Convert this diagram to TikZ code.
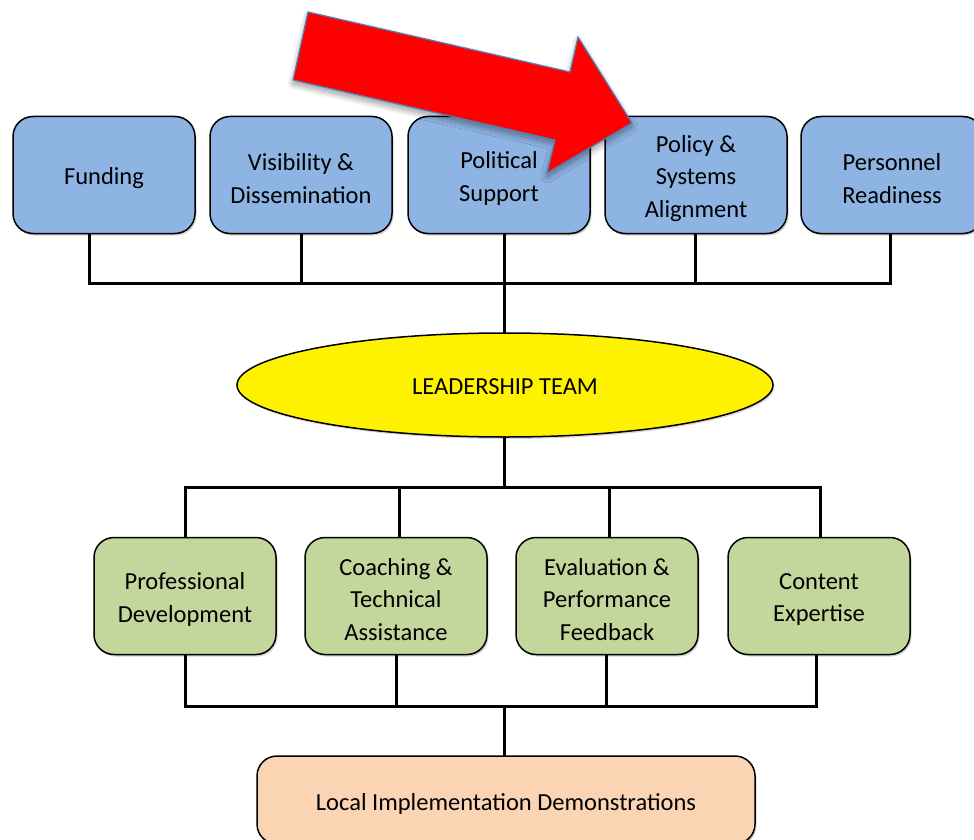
\documentclass[tikz,border=0pt]{standalone}
\usepackage{fontspec}
\setmainfont{Carlito}
\usetikzlibrary{shadows,shadows.blur,shapes.geometric}
\definecolor{boxblue}{HTML}{8EB4E3}
\definecolor{boxgreen}{HTML}{C3D69B}
\definecolor{boxpeach}{HTML}{FBD4B4}
\definecolor{arrowedge}{HTML}{4F81BD}
\begin{document}
\begin{tikzpicture}[x=1pt,y=-1pt,
  box/.style={draw=black, line width=1.5pt, rounded corners=20pt,
    minimum width=182pt, minimum height=117pt, inner sep=0pt,
    drop shadow={shadow xshift=1.5pt, shadow yshift=-2pt, opacity=0.35}},
  topbox/.style={box, fill=boxblue},
  midbox/.style={box, fill=boxgreen},
  lbl/.style={align=center, inner sep=0pt, yshift=-3.5pt,
    font=\fontsize{24.5}{32.5}\selectfont},
  conn/.style={draw=black, line width=3pt, line cap=rect},
]
\useasboundingbox (0,0) rectangle (974,840);

% support areas feeding the leadership team
\node[topbox] (fund) at (104,175) {};
\node[topbox] (vis)  at (301,175) {};
\node[topbox] (pol)  at (499,175) {};
\node[topbox] (pols) at (696,175) {};
\node[topbox] (pers) at (892,175) {};
\node[lbl] (fundT) at (fund.center) {Funding};
\node[lbl] (visT)  at (vis.center)  {Visibility \&\\Dissemination};
\node[lbl] (polT)  at (pol.center)  {Political\\Support};
\node[lbl] (polsT) at (pols.center) {Policy \&\\Systems\\Alignment};
\node[lbl] (persT) at (pers.center) {Personnel\\Readiness};

% leadership team
\node[ellipse, draw=black, line width=1.5pt, fill=yellow,
  minimum width=536pt, minimum height=104pt, inner sep=0pt,
  drop shadow={shadow xshift=1.5pt, shadow yshift=-2pt, opacity=0.3}]
  (lead) at (505,385) {};
\node[lbl, yshift=1.5pt] (leadT) at (lead.center) {LEADERSHIP TEAM};

% supports delivered by the team
\node[midbox] (pd)    at (185,596) {};
\node[midbox] (coach) at (396,596) {};
\node[midbox] (eval)  at (607,596) {};
\node[midbox] (cont)  at (819,596) {};
\node[lbl] (pdT)    at (pd.center)    {Professional\\Development};
\node[lbl] (coachT) at (coach.center) {Coaching \&\\Technical\\Assistance};
\node[lbl] (evalT)  at (eval.center)  {Evaluation \&\\Performance\\Feedback};
\node[lbl] (contT)  at (cont.center)  {Content\\Expertise};

% local demonstrations
\node[box, fill=boxpeach, minimum width=498pt, minimum height=88pt]
  (local) at (506,800) {};
\node[lbl] (localT) at (local.center) {Local Implementation Demonstrations};

% bus coordinates
\coordinate (busT) at (504,283);
\coordinate (busM) at (504,487);
\coordinate (busB) at (504,706);

% upper tree
\draw[conn] ([xshift=-15pt]fund.south) |- (busT) -| ([xshift=-2pt]pers.south);
\draw[conn] (vis.south) -- (vis.south |- busT);
\draw[conn] ([xshift=-1pt]pols.south) -- ([xshift=-1pt]pols.south |- busT);
\draw[conn] ([xshift=5pt]pol.south) -- ([xshift=5pt]pol.south |- lead.north);

% middle tree
\draw[conn] (lead.south -| busM) -- (busM);
\draw[conn] (pd.north) |- (busM) -| ([xshift=1pt]cont.north);
\draw[conn] ([xshift=3pt]coach.north) -- ([xshift=3pt]coach.north |- busM);
\draw[conn] ([xshift=2pt]eval.north) -- ([xshift=2pt]eval.north |- busM);

% lower tree
\draw[conn] (pd.south) |- (busB) -| ([xshift=-3pt]cont.south);
\draw[conn] (coach.south) -- (coach.south |- busB);
\draw[conn] ([xshift=-1pt]eval.south) -- ([xshift=-1pt]eval.south |- busB);
\draw[conn] (busB) -- (busB |- local.north);

% highlight arrow
\draw[fill=red, draw=arrowedge, line width=1.2pt, line join=miter,
  blur shadow={shadow xshift=0pt, shadow yshift=-4pt, shadow blur radius=6pt,
    shadow opacity=40, shadow blur steps=12}]
  (308,12) -- (570,72) -- (578,37) -- (632,123) -- (547,173) -- (555,140)
  -- (293,80) -- cycle;
\end{tikzpicture}
\end{document}
